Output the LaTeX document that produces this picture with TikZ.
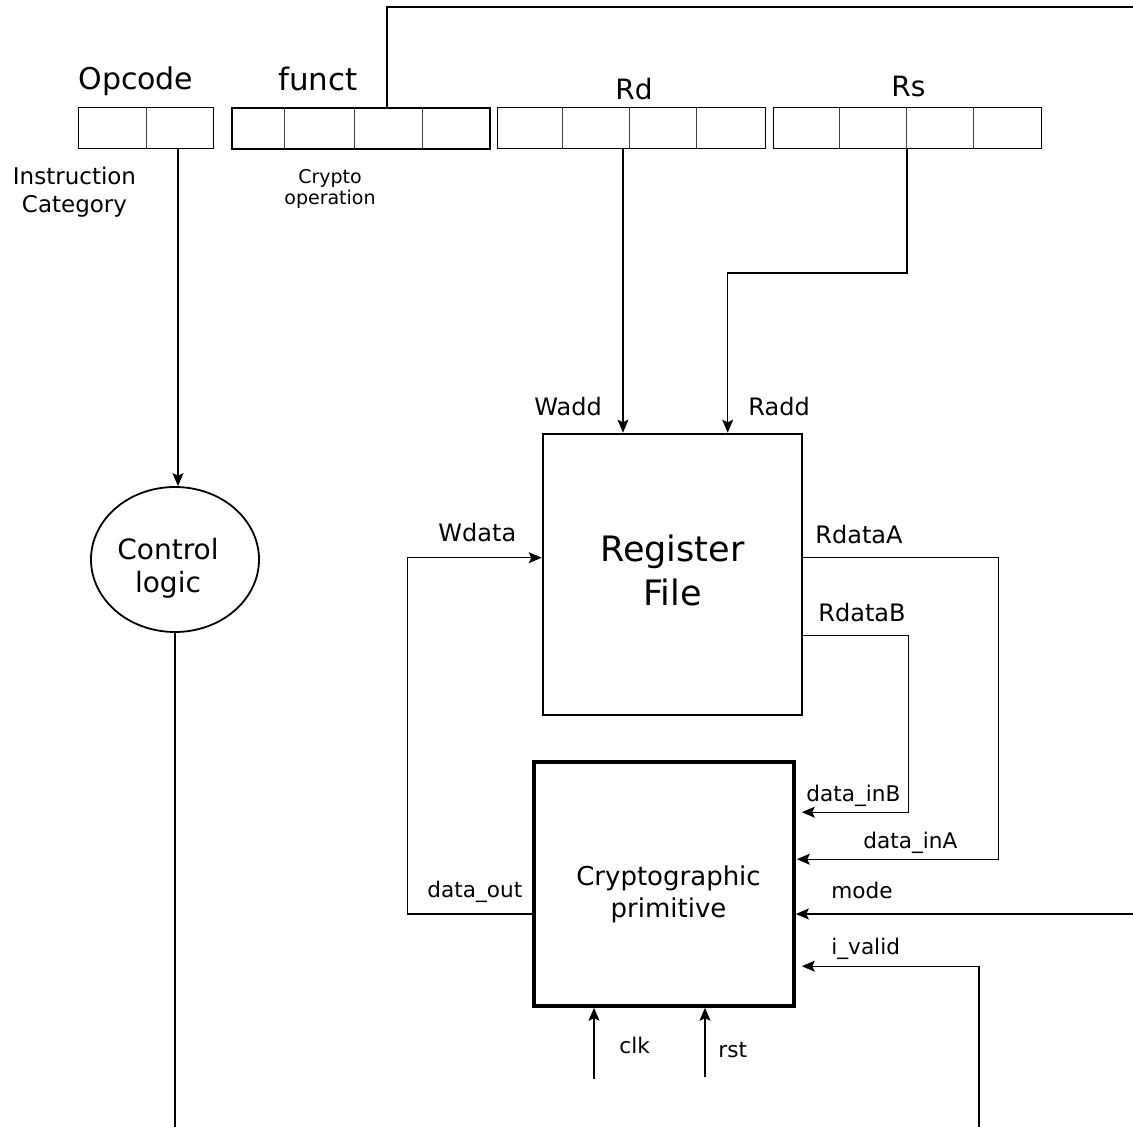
\documentclass[tikz,border=0pt]{standalone}
\usepackage{fontspec}
\setmainfont{DejaVu Sans}
\usetikzlibrary{arrows.meta,shapes.geometric,calc}

\begin{document}
\begin{tikzpicture}[x=0.5pt, y=-0.5pt,
    wire/.style={line width=0.55pt},
    sig/.style={wire, -{Stealth[length=6.5pt,width=5.5pt,inset=1.3pt]}},
    field/.style={draw, line width=0.7pt, minimum height=20.5pt, inner sep=0pt, anchor=north west},
    cell/.style={line width=0.5pt, black!75},
    lbl/.style={font=\fontsize{#1}{#1}\selectfont, inner sep=0pt, anchor=base west},
    block/.style={draw, inner sep=0pt},
]
\useasboundingbox (0,0) rectangle (1133,1127);

% ---- instruction word ----
\node[field, minimum width=67.5pt] (opcode) at (78,107) {};
\node[field, minimum width=129pt, line width=0.9pt] (funct) at (231,107) {};
\node[field, minimum width=134pt] (rd) at (497,107) {};
\node[field, minimum width=134pt] (rs) at (773,107) {};
\foreach \x in {146, 284,354,422, 562,629,696, 839,906,973}
    \draw[cell] (\x,107) -- (\x,149);

\node[lbl=15] (opcodetxt) at (78,90) {Opcode};
\node[lbl=15.5] (functtxt) at (278,91) {funct};
\node[lbl=14] (rdtxt) at (615,100) {Rd};
\node[lbl=14] (rstxt) at (891,97) {Rs};
\node[font=\fontsize{11.5}{14}\selectfont, align=center, inner sep=0pt] (cattxt) at (74.5,192) {Instruction\\Category};
\node[font=\fontsize{9.5}{10.5}\selectfont, align=center, inner sep=0pt] (optxt) at (330,188.5) {Crypto\\operation};

% tap points on the fields and free ends at the border
\coordinate (optap) at (178,149);
\coordinate (functtap) at (387,107);
\coordinate (rdtap) at (623,149);
\coordinate (rstap) at (907,149);
\coordinate (topedge) at (1133,7);
\coordinate (modeedge) at (1133,914);
\coordinate (validfoot) at (979,1127);
\coordinate (clkfoot) at (594,1079);
\coordinate (rstfoot) at (705,1077);

% ---- blocks ----
\node[ellipse, draw, line width=0.9pt, minimum width=84pt, minimum height=72.5pt, inner sep=0pt] (ctrl) at (175,559.5) {};
\node[font=\fontsize{14}{16.5}\selectfont, align=center, inner sep=0pt] (ctrltxt) at (168,568) {Control\\logic};
\node[block, line width=1.3pt, minimum width=129.5pt, minimum height=140.5pt] (regfile) at (672.5,574.5) {};
\node[font=\fontsize{17.5}{22}\selectfont, align=center, inner sep=0pt] (regtxt) at (672.5,570) {Register\\File};
\node[block, line width=1.8pt, minimum width=130pt, minimum height=122pt] (crypto) at (664,884) {};
\node[font=\fontsize{13}{16}\selectfont, align=center, inner sep=0pt] (cryptotxt) at (668.5,894.5) {Cryptographic\\primitive};

% ---- port names ----
\node[lbl=12] (wadd) at (534,416) {Wadd};
\node[lbl=12] (radd) at (748,416) {Radd};
\node[lbl=12] (wdata) at (438,541) {Wdata};
\node[lbl=12] (rdataa) at (815,543) {RdataA};
\node[lbl=12] (rdatab) at (818,621) {RdataB};
\node[lbl=10.8] (dinb) at (806,801) {data\_inB};
\node[lbl=10.8] (dina) at (863,848) {data\_inA};
\node[lbl=10.8] (dout) at (427,897) {data\_out};
\node[lbl=10.8] (mode) at (831,898) {mode};
\node[lbl=10.8] (ivalid) at (831,954) {i\_valid};
\node[lbl=10.8] (clk) at (619,1053) {clk};
\node[lbl=10.8] (rst) at (718,1057) {rst};

% ---- connections ----
\draw[sig] (optap) -- (optap |- ctrl.north);
\draw[wire] (ctrl.south) -- (ctrl.south |- validfoot);
\draw[wire] (functtap) |- (topedge);
\draw[sig] (rdtap) -- (rdtap |- regfile.north);
\draw[sig] (rstap) -- ++(0,124) -| ($(regfile.north west)+(186,0)$);
\draw[sig] ($(crypto.west)+(0,30)$) -- ++(-125,0) |- ($(regfile.north west)+(0,125)$);
\draw[sig] ($(regfile.north east)+(0,125)$) -- ++(195,0) |- ($(crypto.north east)+(1,99)$);
\draw[sig] ($(regfile.north east)+(0,203)$) -- ++(105,0) |- ($(crypto.north east)+(6,52)$);
\draw[sig] (modeedge) -- (modeedge -| crypto.east);
\draw[sig] (validfoot) |- ($(crypto.north east)+(6,206)$);
\draw[sig] (clkfoot) -- (clkfoot |- crypto.south);
\draw[sig] (rstfoot) -- (rstfoot |- crypto.south);

\end{tikzpicture}
\end{document}
